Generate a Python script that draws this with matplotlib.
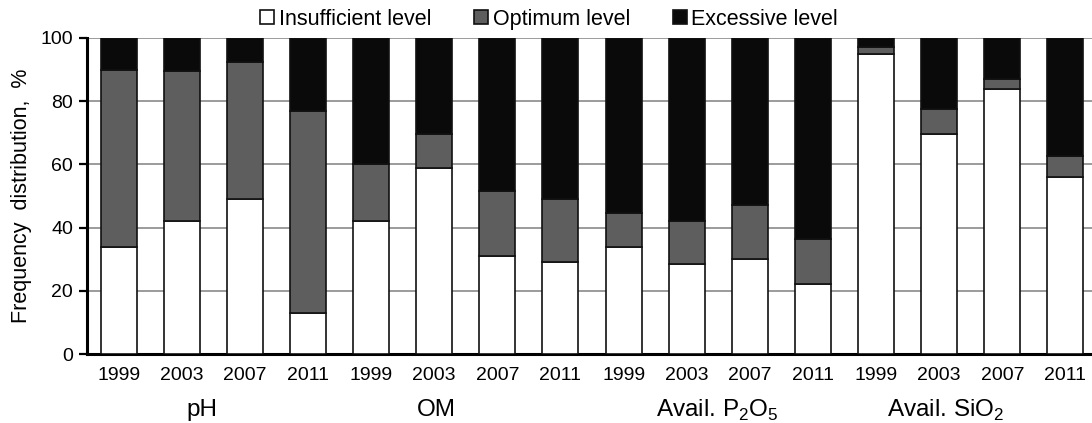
import matplotlib
matplotlib.use("Agg")
import matplotlib.pyplot as plt
import numpy as np

plt.rcParams['font.family'] = ['Liberation Sans', 'DejaVu Sans']
plt.rcParams['mathtext.fontset'] = 'custom'
plt.rcParams['mathtext.rm'] = 'Liberation Sans'

# Survey years repeated for each soil property
years = ["1999", "2003", "2007", "2011"] * 4
groups = ["pH", "OM", "Avail. P$_2$O$_5$", "Avail. SiO$_2$"]

# Frequency distribution (%) of each fertility level
insufficient = [34, 42, 49, 13, 42, 59, 31, 29, 34, 28.5, 30, 22, 95, 69.5, 84, 56]
optimum = [56, 47.5, 43.5, 64, 18, 10.5, 20.5, 20, 10.5, 13.5, 17, 14.5, 2, 8, 3, 6.5]
excessive = [100 - a - b for a, b in zip(insufficient, optimum)]

series_names = ["Insufficient level", "Optimum level", "Excessive level"]
colors = ["#ffffff", "#5e5e5e", "#0a0a0a"]

fig = plt.figure(figsize=(10.92, 4.23), dpi=100)
ax = fig.add_axes([87 / 1092, 1 - 354 / 423, 1 - 87 / 1092, 316 / 423])

x = np.arange(len(years))
width = 0.57
bottom = np.zeros(len(years))
for vals, name, col in zip([insufficient, optimum, excessive], series_names, colors):
    ax.bar(x, vals, width, bottom=bottom, color=col, edgecolor="#111111",
           linewidth=1.2, label=name, zorder=3)
    bottom += np.array(vals)

ax.set_ylim(0, 100)
ax.set_xlim(-0.5, 15.42)
ax.set_yticks([0, 20, 40, 60, 80, 100])
ax.set_xticks(x)
ax.set_xticklabels(years)
ax.tick_params(axis="y", labelsize=14, length=6, width=1.6, direction="out", pad=4)
ax.tick_params(axis="x", labelsize=14, length=0, pad=9)
ax.yaxis.grid(True, color="#8a8a8a", linewidth=1.2, zorder=0)
ax.set_axisbelow(True)

for s in ["top", "right"]:
    ax.spines[s].set_visible(False)
for s in ["left", "bottom"]:
    ax.spines[s].set_linewidth(2.2)
    ax.spines[s].set_color("black")

ax.set_ylabel("Frequency  distribution,  %", fontsize=15.5, labelpad=6)

# Property names under each block of four years
group_x = [1.32, 5.04, 9.48, 13.1]
for gx, g in zip(group_x, groups):
    ax.text(gx, -0.177, g, transform=ax.get_xaxis_transform(),
            ha="center", va="center", fontsize=17.5)

handles, labels = ax.get_legend_handles_labels()
fig.legend(handles, labels, loc="upper center", bbox_to_anchor=(0.503, 1.005), ncol=3,
           frameon=False, fontsize=15.5, handlelength=0.65, handleheight=0.65,
           handletextpad=0.2, columnspacing=2.0, borderaxespad=0.1)

fig.savefig("out.png", dpi=100)
